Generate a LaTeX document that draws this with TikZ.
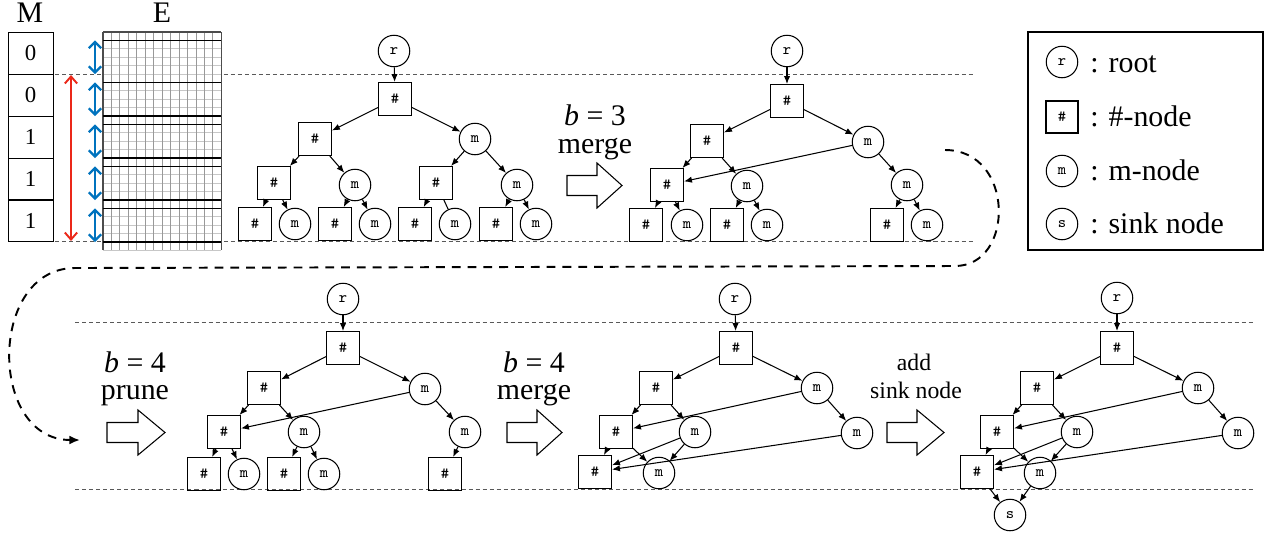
\documentclass[tikz,border=0pt]{standalone}
\usepackage{fontspec}
\setmainfont{Liberation Serif}
\usetikzlibrary{arrows.meta}
\definecolor{myred}{RGB}{235,40,25}
\definecolor{myblue}{RGB}{0,115,190}
\tikzset{
 cn/.style={circle,draw,line width=0.6pt,minimum size=0.63cm,inner sep=0pt,font=\ttfamily\fontsize{9}{9}\selectfont},
 sq/.style={rectangle,draw,line width=0.6pt,minimum size=0.66cm,inner sep=0pt,font=\ttfamily\fontsize{9}{9}\selectfont},
 ed/.style={line width=0.6pt,-{Latex[length=4.5pt,width=3.6pt]}},
 pl/.style={line width=0.6pt},
 sep/.style={black!65,line width=0.5pt,dash pattern=on 2.3pt off 1.7pt},
 barrow/.style={draw,line width=0.6pt,fill=white},
 big/.style={font=\fontsize{17}{17}\selectfont,inner sep=0pt},
 mid/.style={font=\fontsize{13.5}{13.5}\selectfont,inner sep=0pt},
 mcell/.style={draw,line width=0.5pt,minimum width=0.9cm,minimum height=0.84cm,inner sep=0pt,font=\fontsize{13}{13}\selectfont},
 gridv/.style={black!40,line width=0.5pt},
 gridh/.style={black!22,line width=0.5pt},
 redarr/.style={myred,line width=1.1pt,{Straight Barb[length=4pt,width=7pt]}-{Straight Barb[length=4pt,width=7pt]}},
 bluearr/.style={myblue,line width=1.3pt,{Straight Barb[length=3.5pt,width=7pt]}-{Straight Barb[length=3.5pt,width=7pt]}},
 loopline/.style={line width=1.1pt,dash pattern=on 5pt off 4pt,-{Latex[length=6pt,width=5pt]}},
}
\begin{document}
\begin{tikzpicture}[x=0.02cm,y=-0.02cm]
\useasboundingbox (0,0) rectangle (1266,535);

% separator lines
\draw[sep] (55,74) -- (975,74);
\draw[sep] (55,241) -- (975,241);
\draw[sep] (75,322) -- (1255,322);
\draw[sep] (75,489) -- (1255,489);

% M column
\node[big,anchor=base] (Mlab) at (30,22) {M};
\node[big,anchor=base] (Elab) at (162,22) {E};
\node[mcell] (m1) at (30.5,53) {0};
\node[mcell] (m2) at (30.5,95) {0};
\node[mcell] (m3) at (30.5,137) {1};
\node[mcell] (m4) at (30.5,179) {1};
\node[mcell] (m5) at (30.5,220.5) {1};

% E grid
\foreach \j in {0,...,26} \draw[gridh] (103,{32+8.4*\j}) -- (221.3,{32+8.4*\j});
\foreach \i in {0,...,14} \draw[gridv] ({103+8.45*\i},32) -- ({103+8.45*\i},250.4);
\draw[black!70,line width=0.6pt] (103,32) -- (221.3,32);
\draw[black!70,line width=0.6pt] (103,32) -- (103,250.4);
\draw[black!70,line width=0.6pt] (221.3,32) -- (221.3,250.4);
\foreach \y in {40.4,82.4,116,124.4,158,166.4,200,208.4,242}
  \draw[black,line width=0.6pt] (103,\y) -- (221.3,\y);

% arrows at M/E
\draw[redarr] (71,75) -- (71,241);
\foreach \t/\b in {40.4/74,82.4/116,124.4/158,166.4/200,208.4/242}
  \draw[bluearr] (95,\t) -- (95,\b);

% ---------- Tree 1 ----------
\node[cn] (t1r) at (394,51) {r};
\node[sq] (t1a) at (395,99) {\#};
\node[sq] (t1b) at (315,139) {\#};
\node[cn] (t1c) at (475,139) {m};
\node[sq] (t1d) at (274,183) {\#};
\node[cn] (t1e) at (355,185) {m};
\node[sq] (t1f) at (436,183) {\#};
\node[cn] (t1g) at (517,185) {m};
\node[sq] (t1h) at (255,224) {\#};
\node[cn] (t1i) at (295,224) {m};
\node[sq] (t1j) at (335,224) {\#};
\node[cn] (t1k) at (375,224) {m};
\node[sq] (t1l) at (415,224) {\#};
\node[cn] (t1m) at (455,224) {m};
\node[sq] (t1n) at (496,224) {\#};
\node[cn] (t1o) at (536,224) {m};
\draw[ed] (t1r) -- (t1a);
\draw[ed] (t1a) -- (t1b);
\draw[ed] (t1a) -- (t1c);
\draw[ed] (t1b) -- (t1d);
\draw[ed] (t1b) -- (t1e);
\draw[ed] (t1c) -- (t1f);
\draw[ed] (t1c) -- (t1g);
\draw[ed] (t1d) -- (t1h);
\draw[ed] (t1d) -- (t1i);
\draw[ed] (t1e) -- (t1j);
\draw[ed] (t1e) -- (t1k);
\draw[ed] (t1f) -- (t1l);
\draw[pl] (t1f) -- (t1m);
\draw[ed] (t1g) -- (t1n);
\draw[ed] (t1g) -- (t1o);

% b=3 merge
\node[big,anchor=base] (l1a) at (595,125) {\textit{b} = 3};
\node[big,anchor=base] (l1b) at (595,153) {merge};
\draw[barrow] (567,175.5) -- (597,175.5) -- (597,163) -- (622,185.5) -- (597,208) -- (597,195.5) -- (567,195.5) -- cycle;

% ---------- Tree 2 ----------
\node[cn] (t2r) at (787,51) {r};
\node[sq] (t2a) at (787,101) {\#};
\node[sq] (t2b) at (707,141) {\#};
\node[cn] (t2c) at (868,142) {m};
\node[sq] (t2d) at (667,185) {\#};
\node[cn] (t2e) at (747,186) {m};
\node[cn] (t2g) at (907,185) {m};
\node[sq] (t2h) at (646,225) {\#};
\node[cn] (t2i) at (687,225) {m};
\node[sq] (t2j) at (727,225) {\#};
\node[cn] (t2k) at (767,225) {m};
\node[sq] (t2n) at (887,225) {\#};
\node[cn] (t2o) at (927,225) {m};
\draw[ed] (t2r) -- (t2a);
\draw[ed] (t2a) -- (t2b);
\draw[ed] (t2a) -- (t2c);
\draw[ed] (t2b) -- (t2d);
\draw[ed] (t2b) -- (t2e);
\draw[ed] (t2c) -- (t2d);
\draw[ed] (t2c) -- (t2g);
\draw[ed] (t2d) -- (t2h);
\draw[ed] (t2d) -- (t2i);
\draw[ed] (t2e) -- (t2j);
\draw[ed] (t2e) -- (t2k);
\draw[ed] (t2g) -- (t2n);
\draw[ed] (t2g) -- (t2o);

% legend
\draw[line width=0.6pt] (1028,32) rectangle (1263,250);
\node[cn] (lgr) at (1062,62) {r};
\node[sq,minimum size=0.64cm] (lgh) at (1062,117) {\#};
\node[cn] (lgm) at (1062,171) {m};
\node[cn] (lgs) at (1062,224) {s};
\node[big,anchor=base west] (lgt1) at (1090,72) {: root};
\node[big,anchor=base west] (lgt2) at (1090,126) {: \#-node};
\node[big,anchor=base west] (lgt3) at (1090,180) {: m-node};
\node[big,anchor=base west] (lgt4) at (1090,233) {: sink node};

% loop connector
\coordinate (ls) at (945,150);
\coordinate (le) at (80,440);
\draw[loopline] (ls) .. controls (1015,150) and (1015,266) .. (955,266) -- (75,268) .. controls (-12,268) and (-12,440) .. (le);

% ---------- Tree 3 ----------
\node[big,anchor=base] (l3a) at (135,372) {\textit{b} = 4};
\node[big,anchor=base] (l3b) at (135,399) {prune};
\draw[barrow] (107,422.5) -- (138,422.5) -- (138,410) -- (165,432.5) -- (138,455) -- (138,442.5) -- (107,442.5) -- cycle;

\node[cn] (t3r) at (343,299) {r};
\node[sq] (t3a) at (343,348) {\#};
\node[sq] (t3b) at (264,388) {\#};
\node[cn] (t3c) at (425,389) {m};
\node[sq] (t3d) at (224,432) {\#};
\node[cn] (t3e) at (304,432) {m};
\node[cn] (t3g) at (465,432) {m};
\node[sq] (t3h) at (204,474) {\#};
\node[cn] (t3i) at (244,474) {m};
\node[sq] (t3j) at (284,474) {\#};
\node[cn] (t3k) at (324,474) {m};
\node[sq] (t3n) at (445,474) {\#};
\draw[ed] (t3r) -- (t3a);
\draw[ed] (t3a) -- (t3b);
\draw[ed] (t3a) -- (t3c);
\draw[ed] (t3b) -- (t3d);
\draw[ed] (t3b) -- (t3e);
\draw[ed] (t3c) -- (t3d);
\draw[ed] (t3c) -- (t3g);
\draw[ed] (t3d) -- (t3h);
\draw[ed] (t3d) -- (t3i);
\draw[ed] (t3e) -- (t3j);
\draw[ed] (t3e) -- (t3k);
\draw[ed] (t3g) -- (t3n);

% ---------- Tree 4 ----------
\node[big,anchor=base] (l4a) at (534,372) {\textit{b} = 4};
\node[big,anchor=base] (l4b) at (534,399) {merge};
\draw[barrow] (507,422.5) -- (537,422.5) -- (537,410) -- (562,432.5) -- (537,455) -- (537,442.5) -- (507,442.5) -- cycle;

\node[cn] (t4r) at (735,299) {r};
\node[sq] (t4a) at (736,348) {\#};
\node[sq] (t4b) at (656,388) {\#};
\node[cn] (t4c) at (817,388) {m};
\node[sq] (t4d) at (616,432) {\#};
\node[cn] (t4e) at (695,432) {m};
\node[cn] (t4g) at (857,433) {m};
\node[sq] (t4h) at (595,472) {\#};
\node[cn] (t4i) at (659,473) {m};
\draw[ed] (t4r) -- (t4a);
\draw[ed] (t4a) -- (t4b);
\draw[ed] (t4a) -- (t4c);
\draw[ed] (t4b) -- (t4d);
\draw[ed] (t4b) -- (t4e);
\draw[ed] (t4c) -- (t4d);
\draw[ed] (t4c) -- (t4g);
\draw[ed] (t4d) -- (t4h);
\draw[ed] (t4d) -- (t4i);
\draw[ed] (t4e) -- (t4h);
\draw[ed] (t4e) -- (t4i);
\draw[ed] (t4g) -- (t4h);

% ---------- Tree 5 ----------
\node[mid,anchor=base] (l5a) at (914,370) {add};
\node[mid,anchor=base] (l5b) at (916,398) {sink node};
\draw[barrow] (887,422.5) -- (917,422.5) -- (917,410) -- (944,432.5) -- (917,455) -- (917,442.5) -- (887,442.5) -- cycle;

\node[cn] (t5r) at (1117,298) {r};
\node[sq] (t5a) at (1117,348) {\#};
\node[sq] (t5b) at (1037,388) {\#};
\node[cn] (t5c) at (1198,388) {m};
\node[sq] (t5d) at (997,432) {\#};
\node[cn] (t5e) at (1077,432) {m};
\node[cn] (t5g) at (1238,433) {m};
\node[sq] (t5h) at (977,472) {\#};
\node[cn] (t5i) at (1040,473) {m};
\node[cn] (t5s) at (1010,515) {s};
\draw[ed] (t5r) -- (t5a);
\draw[ed] (t5a) -- (t5b);
\draw[ed] (t5a) -- (t5c);
\draw[ed] (t5b) -- (t5d);
\draw[ed] (t5b) -- (t5e);
\draw[ed] (t5c) -- (t5d);
\draw[ed] (t5c) -- (t5g);
\draw[ed] (t5d) -- (t5h);
\draw[ed] (t5d) -- (t5i);
\draw[ed] (t5e) -- (t5h);
\draw[ed] (t5e) -- (t5i);
\draw[ed] (t5g) -- (t5h);
\draw[ed] (t5h) -- (t5s);
\draw[ed] (t5i) -- (t5s);
\end{tikzpicture}
\end{document}
